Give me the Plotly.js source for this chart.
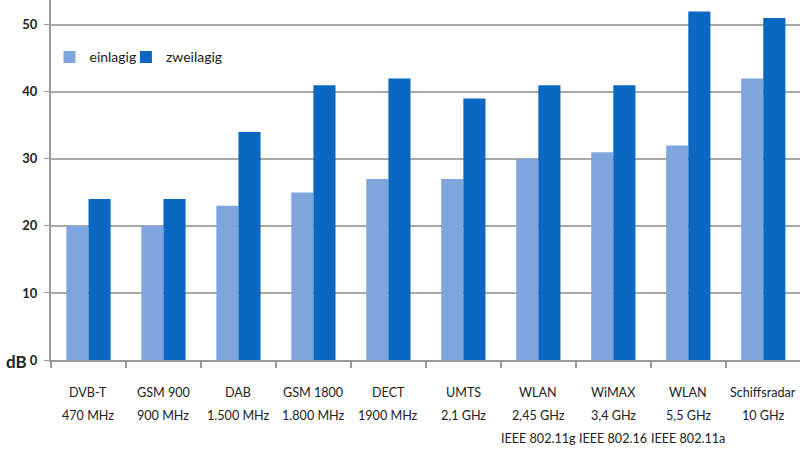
<!DOCTYPE html>
<html>
<head>
<meta charset="utf-8">
<script src="https://cdn.plot.ly/plotly-3.0.1.min.js"></script>
<style>html,body{margin:0;padding:0;background:#fff;}#chart{width:800px;height:450px;}</style>
</head>
<body>
<div id="chart"></div>
<script>
const categories = ["DVB-T", "GSM 900", "DAB", "GSM 1800", "DECT", "UMTS", "WLAN 2,45", "WiMAX", "WLAN 5,5", "Schiffsradar"];
const labelLine1 = ["DVB-T", "GSM 900", "DAB", "GSM 1800", "DECT", "UMTS", "WLAN", "WiMAX", "WLAN", "Schiffsradar"];
const labelLine2 = ["470 MHz", "900 MHz", "1.500 MHz", "1.800 MHz", "1900 MHz", "2,1 GHz", "2,45 GHz", "3,4 GHz", "5,5 GHz", "10 GHz"];
const labelLine3 = ["", "", "", "", "", "", "IEEE 802.11g", "IEEE 802.16", "IEEE 802.11a", ""];
const einlagig = [20, 20, 23, 25, 27, 27, 30, 31, 32, 42];
const zweilagig = [24, 24, 34, 41, 42, 39, 41, 41, 52, 51];
const yTicks = [0, 10, 20, 30, 40, 50];

const FONT = "Lato, 'Open Sans', sans-serif";
const traces = [
  {type: "bar", name: "einlagig", x: categories, y: einlagig, marker: {color: "#7ea6dc"}, legend: "legend"},
  {type: "bar", name: "zweilagig", x: categories, y: zweilagig, marker: {color: "#0a67c2"}, legend: "legend2"}
];

const annotations = [];
[labelLine1, labelLine2, labelLine3].forEach((line, li) => {
  line.forEach((t, i) => {
    if (!t) return;
    annotations.push({
      x: categories[i], xref: "x", y: 0, yref: "paper",
      text: t, showarrow: false, xanchor: "center", yanchor: "middle",
      yshift: -(32 + li * 23),
      font: {family: FONT, size: 12.6, color: "#222"}
    });
  });
});
annotations.push({
  x: 0, xref: "paper", y: 0, yref: "paper", text: "<b>dB</b>", showarrow: false,
  xanchor: "right", yanchor: "middle", xshift: -22, yshift: -1,
  font: {family: FONT, size: 17, color: "#222"}
});

const legendBase = {orientation: "h", y: 0.885, xanchor: "left", yanchor: "top",
  bgcolor: "rgba(0,0,0,0)", font: {family: FONT, size: 14, color: "#1a1a1a"},
  itemwidth: 30};

const layout = {
  width: 800, height: 450,
  margin: {l: 51, r: 0, t: 0, b: 90},
  paper_bgcolor: "#fff", plot_bgcolor: "#fff",
  barmode: "group", bargap: 0.41, bargroupgap: 0,
  showlegend: true,
  legend: Object.assign({}, legendBase, {x: -0.002}),
  legend2: Object.assign({}, legendBase, {x: 0.1}),
  xaxis: {type: "category", range: [-0.5, 9.49], showticklabels: false,
    showline: true, linecolor: "#9a9a9a", linewidth: 2,
    ticks: "outside", ticklen: 6, tickcolor: "#9a9a9a", tickwidth: 1.5,
    tickson: "boundaries", showgrid: false, zeroline: false},
  yaxis: {range: [0, 53.7], tickvals: yTicks, ticktext: yTicks.map(String),
    showline: true, linecolor: "#9a9a9a", linewidth: 2,
    ticks: "outside", ticklen: 5, tickcolor: "#9a9a9a", ticklabelstandoff: 4,
    gridcolor: "#a8a8a8", gridwidth: 2, zeroline: false,
    tickfont: {family: FONT, size: 13, color: "#222", weight: "bold"}},
  annotations: annotations
};

Plotly.newPlot("chart", traces, layout, {displayModeBar: false, staticPlot: true});
</script>
</body>
</html>
